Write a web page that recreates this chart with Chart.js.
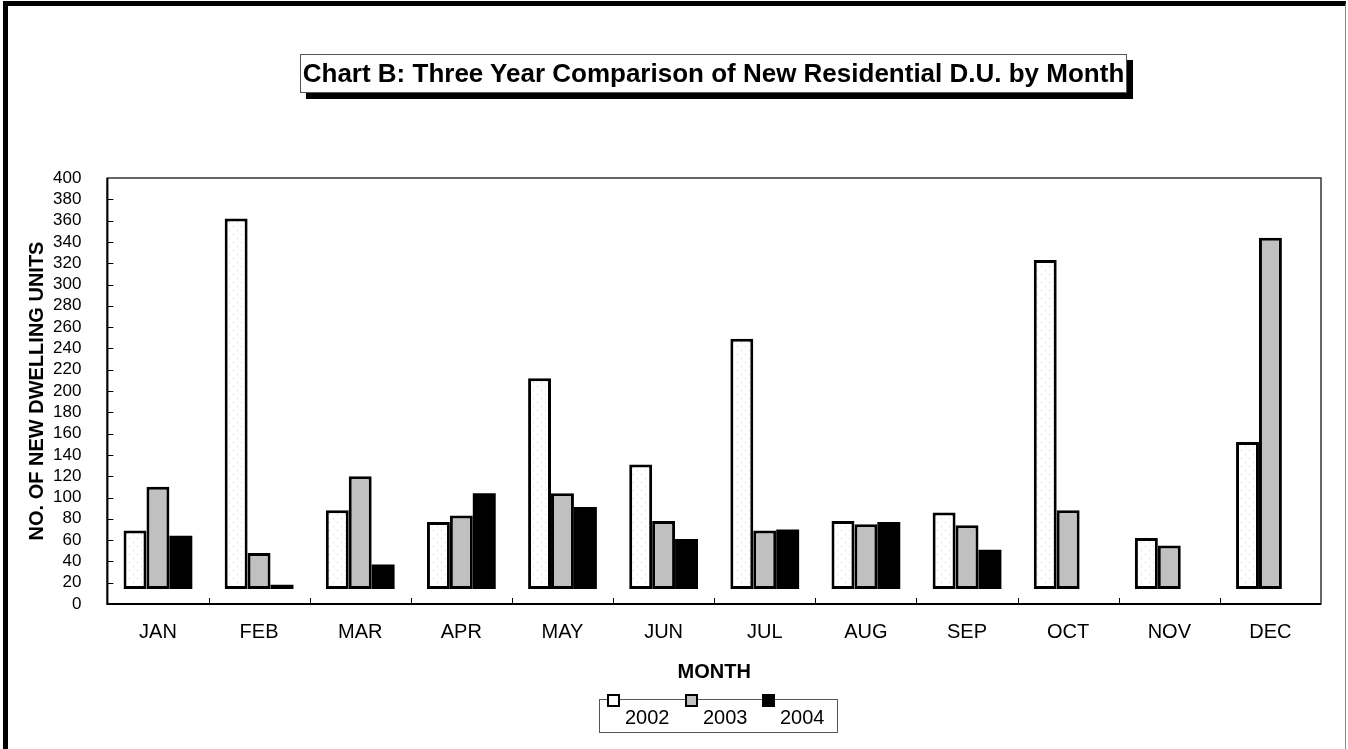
<!DOCTYPE html>
<html>
<head>
<meta charset="utf-8">
<script src="https://cdn.jsdelivr.net/npm/chart.js@4.4.1/dist/chart.umd.min.js"></script>
<style>
  html, body { margin: 0; padding: 0; background: #fff; }
  body { width: 1348px; height: 749px; position: relative; overflow: hidden; font-family: 'Liberation Sans', Arial, sans-serif; }
  #frame { position: absolute; left: 3px; top: 1px; width: 1337px; height: 760px;
           border-top: 5px solid #000; border-left: 5px solid #000; border-right: 1px solid #888; }
  #wrap { position: absolute; left: 0; top: 0; width: 1348px; height: 749px; }
  #title { position: absolute; left: 300px; top: 54px; width: 825px; height: 37px;
           border: 1px solid #555; background: #fff; box-shadow: 6px 6px 0 #000;
           font-weight: bold; font-size: 26px; line-height: 37px; text-align: center; color: #000; white-space: nowrap; }
  #legend { position: absolute; left: 599px; top: 699px; width: 237px; height: 32px; border: 1px solid #555; }
  .mk { position: absolute; top: 694px; width: 9px; height: 9px; border: 2.5px solid #000; }
  .lt { position: absolute; top: 706px; font-size: 20px; line-height: 22px; color: #000; }
</style>
</head>
<body>
<div id="frame"></div>
<div id="wrap"><canvas id="barchart"></canvas></div>
<div id="title">Chart B: Three Year Comparison of New Residential D.U. by Month</div>
<div id="legend"></div>
<script>
var months = ["JAN", "FEB", "MAR", "APR", "MAY", "JUN", "JUL", "AUG", "SEP", "OCT", "NOV", "DEC"];
var years = ["2002", "2003", "2004"];
var du2002 = [69, 362, 88, 77, 212, 131, 249, 78, 86, 323, 62, 152];
var du2003 = [110, 48, 120, 83, 104, 78, 69, 75, 74, 88, 55, 344];
var du2004 = [64, 18, 37, 104, 91, 61, 70, 77, 51, null, null, null];
var yMin = 0, yMax = 400, yStep = 20;

// faint dotted fill used for the 2002 bars
function dotPattern() {
  let c = document.createElement("canvas");
  c.width = 8; c.height = 8;
  let g = c.getContext("2d");
  g.fillStyle = "#fff";
  g.fillRect(0, 0, 8, 8);
  g.fillStyle = "#d4d4d4";
  g.fillRect(1, 2, 1, 1);
  g.fillRect(5, 6, 1, 1);
  return g.createPattern(c, "repeat");
}

var fills = [dotPattern(), "#c0c0c0", "#000000"];
var swatches = ["#ffffff", "#c0c0c0", "#000000"];

// Excel style: frame round the plot, short ticks pointing inwards
const insideTicks = {
  id: "insideTicks",
  afterDraw(chart) {
    const ctx = chart.ctx, a = chart.chartArea;
    const xs = chart.scales.x, ys = chart.scales.y;
    ctx.save();
    ctx.strokeStyle = "#333";
    ctx.lineWidth = 1.5;
    ctx.strokeRect(a.left, a.top, a.right - a.left, a.bottom - a.top);
    ctx.strokeStyle = "#000";
    ctx.lineWidth = 2;
    ctx.beginPath();
    ctx.moveTo(a.left, a.top);
    ctx.lineTo(a.left, a.bottom);
    ctx.lineTo(a.right, a.bottom);
    ctx.stroke();
    ctx.lineWidth = 1;
    ctx.beginPath();
    for (let v = yMin + yStep; v < yMax; v += yStep) {
      let y = Math.round(ys.getPixelForValue(v)) + 0.5;
      ctx.moveTo(a.left, y);
      ctx.lineTo(a.left + 6, y);
    }
    for (let i = 1; i < months.length; i++) {
      let x = Math.round((xs.getPixelForValue(i - 1) + xs.getPixelForValue(i)) / 2) + 0.5;
      ctx.moveTo(x, a.bottom);
      ctx.lineTo(x, a.bottom - 6);
    }
    ctx.stroke();
    ctx.restore();
  }
};

Chart.defaults.font.family = "'Liberation Sans', Arial, sans-serif";
Chart.defaults.color = "#000";

let ctx = document.getElementById("barchart").getContext("2d");

let chart = new Chart(ctx, {
  type: "bar",
  data: {
    labels: months,
    datasets: [du2002, du2003, du2004].map((d, i) => ({
      label: years[i],
      data: d,
      base: 14,
      backgroundColor: fills[i],
      borderColor: "#000",
      borderWidth: i < 2 ? 3 : 0,
      borderSkipped: false,
      barPercentage: 1.0,
      categoryPercentage: 0.68,
    })),
  },
  options: {
    responsive: true,
    maintainAspectRatio: false,
    animation: false,
    layout: { padding: { left: 16, right: 27, top: 178, bottom: 65 } },
    plugins: {
      legend: { display: false },
      tooltip: { enabled: false },
    },
    scales: {
      x: {
        grid: { display: false, drawTicks: false },
        border: { display: false },
        ticks: { padding: 16, font: { size: 20 } },
        title: { display: true, text: "MONTH", font: { size: 20, weight: "bold" }, padding: { top: 0, bottom: 0 } },
      },
      y: {
        min: yMin,
        max: yMax,
        grid: { display: false, drawTicks: false },
        border: { display: false },
        ticks: { stepSize: yStep, autoSkip: false, padding: 26, font: { size: 17 } },
        title: { display: true, text: "NO. OF NEW DWELLING UNITS", font: { size: 20, weight: "bold" }, padding: { top: 9, bottom: -22 } },
      },
    },
  },
  plugins: [insideTicks],
});

// legend drawn as a boxed html block, marker sits above-left of each year
var mkX = [607, 685, 762], txtX = [625, 703, 780];
var leg = document.body;
years.forEach((yr, i) => {
  let m = document.createElement("div");
  m.className = "mk";
  m.style.left = mkX[i] + "px";
  m.style.background = swatches[i];
  leg.appendChild(m);
  let t = document.createElement("div");
  t.className = "lt";
  t.style.left = txtX[i] + "px";
  t.textContent = yr;
  leg.appendChild(t);
});
</script>
</body>
</html>
